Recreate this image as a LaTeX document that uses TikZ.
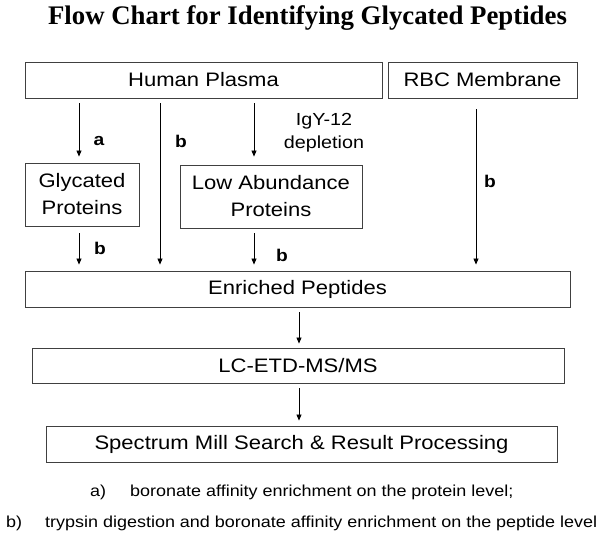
\documentclass[tikz,border=0pt]{standalone}
\usepackage{fontspec}
\setmainfont{Liberation Sans}[FakeStretch=1.13]
\newfontfamily\titlefont{Liberation Serif}
\usetikzlibrary{arrows.meta}

\tikzset{
  box/.style={draw=black!75, line width=0.9pt, inner sep=0pt, align=center,
    font=\fontsize{19.5}{27}\selectfont},
  tag/.style={font=\fontsize{17}{20}\selectfont\bfseries},
  note/.style={font=\fontsize{15.9}{18}\selectfont, anchor=base west, inner sep=0pt},
}

\begin{document}
\begin{tikzpicture}[x=1pt,y=-1pt]
      \useasboundingbox (0,0) rectangle (600,538);

      \node[anchor=base, font=\titlefont\fontsize{26.8}{30}\selectfont\bfseries] (title) at (307.5,24)
        {Flow Chart for Identifying Glycated Peptides};

      \begin{scope}[every node/.style={box}]
        \node[minimum width=357pt, minimum height=36pt] (hp)  at (203.5,80)  {Human Plasma};
        \node[minimum width=189pt, minimum height=36pt] (rbc) at (482.5,80)  {RBC Membrane};
        \node[minimum width=114pt, minimum height=63pt] (gp)  at (82,194.5)  {Glycated\\Proteins};
        \node[minimum width=182pt, minimum height=63pt] (lap) at (271,196.5) {Low Abundance\\Proteins};
        \node[minimum width=545pt, minimum height=36pt] (ep)  at (297.5,289) {Enriched Peptides};
        \node[minimum width=532pt, minimum height=35pt] (lc)  at (298,365.5) {LC-ETD-MS/MS};
        \node[minimum width=511pt, minimum height=36pt] (sm)  at (301.5,444) {Spectrum Mill Search \& Result Processing};
      \end{scope}

      \begin{scope}[every edge/.style={draw, line width=0.8pt, -{Triangle[length=6pt,width=5pt]},
          shorten <=5pt, shorten >=6pt}]
        \path (79,0 |- hp.south)   edge node[tag, pos=.66, xshift=20pt] {a} (79,0 |- gp.north);
        \path (160,0 |- hp.south)  edge node[tag, pos=.25, xshift=21pt] {b} (160,0 |- ep.north);
        \path (254,0 |- hp.south)  edge[shorten >=8pt] node[pos=.52, xshift=70pt, align=center,
          font=\fontsize{17.5}{23}\selectfont] {IgY-12\\depletion} (254,0 |- lap.north);
        \path (476,0 |- rbc.south) edge[shorten <=11pt] node[tag, pos=.48, xshift=14pt] {b} (476,0 |- ep.north);
        \path (79,0 |- gp.south)   edge[shorten <=7pt] node[tag, pos=.49, xshift=21pt] {b} (79,0 |- ep.north);
        \path (254,0 |- lap.south) edge node[tag, pos=.63, xshift=28pt] {b} (254,0 |- ep.north);
        \path (299,0 |- ep.south)  edge[shorten >=4pt] (299,0 |- lc.north);
        \path (299,0 |- lc.south)  edge[shorten >=5pt] (299,0 |- sm.north);
      \end{scope}

      \node[note] (notea)    at (90,496)  {a)};
      \node[note] (noteatxt) at (130,496) {boronate affinity enrichment on the protein level;};
      \node[note] (noteb)    at (6,527)   {b)};
      \node[note] (notebtxt) at (45,527)  {trypsin digestion and boronate affinity enrichment on the peptide level};

    \end{tikzpicture}
\end{document}
